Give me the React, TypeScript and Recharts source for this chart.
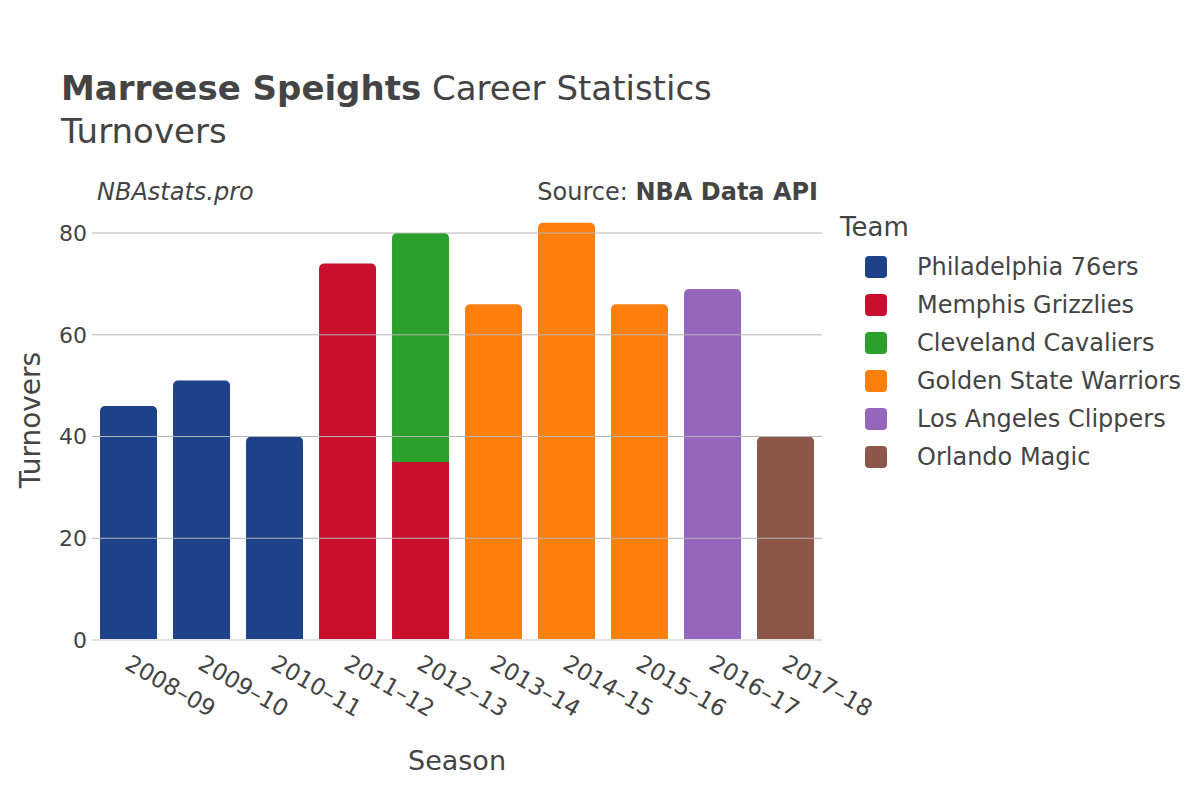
import React from 'react';
import { BarChart, Bar, XAxis, YAxis, ReferenceLine, Cell } from 'recharts';

const SEASONS = ['2008–09', '2009–10', '2010–11', '2011–12', '2012–13', '2013–14', '2014–15', '2015–16', '2016–17', '2017–18'];
const TEAMS = ['Philadelphia 76ers', 'Memphis Grizzlies', 'Cleveland Cavaliers', 'Golden State Warriors', 'Los Angeles Clippers', 'Orlando Magic'];
const TEAM_COLORS = ['#1d428a', '#c8102e', '#2ca02c', '#ff7f0e', '#9467bd', '#8c564b'];

const PHI = [46, 51, 40, null, null, null, null, null, null, null];
const MEM = [null, null, null, 74, 35, null, null, null, null, null];
const CLE = [null, null, null, null, 45, null, null, null, null, null];
const GSW = [null, null, null, null, null, 66, 82, 66, null, null];
const LAC = [null, null, null, null, null, null, null, null, 69, null];
const ORL = [null, null, null, null, null, null, null, null, null, 40];
const SERIES = [PHI, MEM, CLE, GSW, LAC, ORL];

const Y_TICKS = [0, 20, 40, 60, 80];

const data = SEASONS.map((season, i) => {
  const row: Record<string, any> = { season };
  TEAMS.forEach((t, j) => { row[t] = SERIES[j][i]; });
  return row;
});

// a segment gets rounded corners only when nothing is stacked on top of it
const isTop = (teamIdx: number, i: number) =>
  SERIES.slice(teamIdx + 1).every((s) => s[i] == null);

const FONT = '"DejaVu Sans", sans-serif';
const TEXT = '#444';

const SeasonTick = ({ x, y, payload }: any) => (
  <text
    x={x - 5}
    y={y + 28}
    transform={`rotate(30, ${x - 5}, ${y + 28})`}
    textAnchor="start"
    fontSize={23}
    fontFamily={FONT}
    fill={TEXT}
  >
    {payload.value}
  </text>
);

export default function App() {
  return (
    <div style={{ position: 'absolute', left: 0, top: 0, width: 1200, height: 800, background: '#fff', fontFamily: FONT, color: TEXT }}>
      <BarChart
        width={1200}
        height={800}
        data={data}
        margin={{ top: 201, right: 378, bottom: 130, left: 0 }}
        barCategoryGap="11%"
      >
        {Y_TICKS.filter((v) => v > 0).map((v) => (
          <ReferenceLine key={v} y={v} stroke="#b5b5b5" strokeWidth={1} />
        ))}
        <XAxis
          dataKey="season"
          height={30}
          tickLine={false}
          axisLine={{ stroke: '#e3e3e3', strokeWidth: 2 }}
          tickSize={0}
          tickMargin={0}
          interval={0}
          tick={<SeasonTick />}
        />
        <YAxis
          width={92}
          domain={[0, 86.3]}
          ticks={Y_TICKS}
          tickLine={false}
          axisLine={false}
          tickSize={0}
          tickMargin={5}
          tick={{ fontSize: 22, fill: TEXT, fontFamily: FONT }}
        />
        {TEAMS.map((team, j) => (
          <Bar key={team} dataKey={team} stackId="a" fill={TEAM_COLORS[j]} isAnimationActive={false}>
            {SEASONS.map((s, i) => (
              <Cell key={s} radius={isTop(j, i) ? [5, 5, 0, 0] : [0, 0, 0, 0] as any} />
            ))}
          </Bar>
        ))}
      </BarChart>

      <div style={{ position: 'absolute', left: 61, top: 68, fontSize: 34, whiteSpace: 'nowrap' }}>
        <b>Marreese Speights</b> Career Statistics
      </div>
      <div style={{ position: 'absolute', left: 61, top: 111, fontSize: 34 }}>Turnovers</div>
      <div style={{ position: 'absolute', left: 97, top: 178, fontSize: 24, fontStyle: 'italic' }}>NBAstats.pro</div>
      <div style={{ position: 'absolute', right: 1200 - 818, top: 178, fontSize: 24, whiteSpace: 'nowrap' }}>
        Source: <b>NBA Data API</b>
      </div>

      <div style={{ position: 'absolute', left: 30, top: 420, transform: 'translate(-50%, -50%) rotate(-90deg)', fontSize: 28, whiteSpace: 'nowrap' }}>
        Turnovers
      </div>
      <div style={{ position: 'absolute', left: 457, top: 760, transform: 'translate(-50%, -50%)', fontSize: 27 }}>Season</div>

      <div style={{ position: 'absolute', left: 840, top: 212, fontSize: 26 }}>Team</div>
      {TEAMS.map((team, j) => (
        <div key={team} style={{ position: 'absolute', left: 865, top: 266 + j * 38 - 13, height: 28, display: 'flex', alignItems: 'center', whiteSpace: 'nowrap' }}>
          <span style={{ width: 22, height: 22, borderRadius: 4, background: TEAM_COLORS[j], display: 'inline-block' }} />
          <span style={{ marginLeft: 30, fontSize: 24 }}>{team}</span>
        </div>
      ))}
    </div>
  );
}
